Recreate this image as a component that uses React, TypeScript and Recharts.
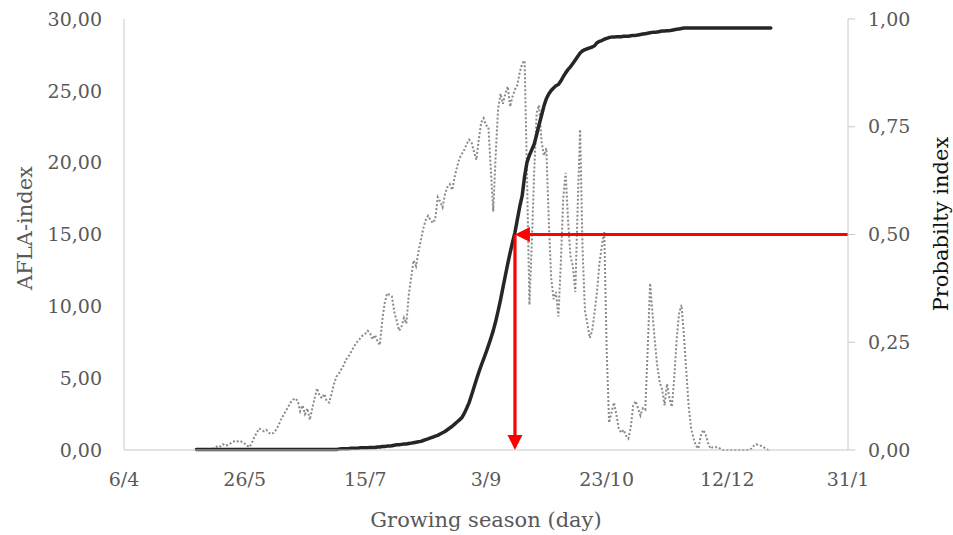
import React from "react";
import { ComposedChart, Line, XAxis, YAxis, ReferenceLine, Label } from "recharts";

// x axis: days since 6/4
const xTickDays = [0, 50, 100, 150, 200, 250, 300];
const xTickLabels = ["6/4", "26/5", "15/7", "3/9", "23/10", "12/12", "31/1"];
const leftTicks = [0, 5, 10, 15, 20, 25, 30];
const leftTickLabels = ["0,00", "5,00", "10,00", "15,00", "20,00", "25,00", "30,00"];
const rightTicks = [0, 0.25, 0.5, 0.75, 1];
const rightTickLabels = ["0,00", "0,25", "0,50", "0,75", "1,00"];

const firstDay = 30; // first data day (6/5)

// AFLA-index, daily, from day 30
const aflaValues = [
  0, 0, 0, 0, 0, 0, 0.05, 0.1, 0.2, 0.3,
  0.25, 0.4, 0.3, 0.35, 0.45, 0.55, 0.65, 0.6, 0.65, 0.55,
  0.45, 0.3, 0.2, 0.5, 0.9, 1.2, 1.5, 1.4, 1.3, 1.4,
  1.2, 1.1, 1.2, 1.4, 1.7, 2.1, 2.4, 2.7, 3.0, 3.3,
  3.5, 3.6, 3.4, 2.7, 3.1, 2.5, 2.9, 2.1, 2.9, 3.6,
  4.3, 3.8, 3.6, 3.9, 3.4, 3.3, 3.9, 4.6, 5.1, 5.3,
  5.6, 5.9, 6.3, 6.5, 6.8, 7.1, 7.4, 7.6, 7.8, 8.0,
  8.1, 8.3, 8.1, 7.7, 8.0, 7.6, 7.3, 9.0, 10.2, 10.9,
  10.8, 10.7, 9.6, 9.0, 8.3, 8.6, 9.2, 8.8, 10.8, 12.0,
  13.2, 12.8, 13.8, 14.6, 15.4, 16.0, 16.3, 16.0, 15.8, 16.1,
  17.6, 17.3, 16.9, 17.8, 18.3, 18.5, 18.1, 19.0, 19.7, 20.3,
  20.6, 20.9, 21.3, 21.6, 21.4, 20.8, 20.2, 21.6, 22.8, 23.1,
  22.6, 22.5, 19.5, 16.6, 20.5, 23.7, 24.8, 24.1, 24.8, 25.3,
  23.9, 24.6, 25.1, 25.4, 26.3, 26.9, 27.1, 19.0, 10.1, 14.5,
  19.5, 23.5, 24.0, 21.5, 20.5, 21.0, 16.0, 12.0, 10.5, 11.0,
  9.3, 13.0, 17.5, 19.3, 16.0, 13.5, 12.8, 11.0, 17.0, 22.3,
  14.0, 9.7, 8.8, 7.8, 8.3, 9.6, 11.0, 13.0, 14.2, 15.2,
  7.0, 1.9, 2.6, 3.3, 2.5, 1.5, 1.2, 1.4, 1.0, 0.8,
  1.6, 3.1, 3.4, 2.9, 2.4, 2.9, 2.8, 7.0, 11.6, 9.5,
  7.5, 5.8, 4.7, 4.2, 3.1, 4.6, 3.6, 3.0, 5.0, 7.7,
  9.5, 10.1, 8.0, 5.5, 3.0, 1.5, 0.8, 0.3, 0.1, 1.0,
  1.4, 1.1, 0.5, 0.1, 0.2, 0.2, 0.2, 0.1, 0, 0,
  0, 0, 0, 0, 0, 0, 0, 0, 0, 0,
  0.1, 0.3, 0.4, 0.3, 0.3, 0.2, 0.1, 0, 0,
];

// Probability index, daily, from day 30
const probValues = [
  0.001, 0.001, 0.001, 0.001, 0.001, 0.001, 0.001, 0.001, 0.001, 0.001,
  0.001, 0.001, 0.001, 0.001, 0.001, 0.001, 0.001, 0.001, 0.001, 0.001,
  0.001, 0.001, 0.001, 0.001, 0.001, 0.001, 0.001, 0.001, 0.001, 0.001,
  0.001, 0.001, 0.001, 0.001, 0.001, 0.001, 0.001, 0.001, 0.001, 0.001,
  0.001, 0.001, 0.001, 0.001, 0.001, 0.001, 0.001, 0.001, 0.001, 0.001,
  0.001, 0.001, 0.001, 0.001, 0.001, 0.001, 0.001, 0.001, 0.001, 0.002,
  0.003, 0.003, 0.003, 0.003, 0.004, 0.004, 0.004, 0.004, 0.005, 0.005,
  0.005, 0.005, 0.006, 0.006, 0.006, 0.007, 0.007, 0.008, 0.008, 0.009,
  0.009, 0.010, 0.011, 0.012, 0.012, 0.013, 0.014, 0.014, 0.015, 0.016,
  0.017, 0.018, 0.019, 0.020, 0.022, 0.024, 0.026, 0.028, 0.030, 0.032,
  0.034, 0.037, 0.040, 0.043, 0.047, 0.051, 0.055, 0.060, 0.065, 0.070,
  0.075, 0.085, 0.097, 0.110, 0.127, 0.145, 0.163, 0.180, 0.196, 0.211,
  0.226, 0.242, 0.259, 0.277, 0.298, 0.322, 0.348, 0.376, 0.404, 0.432,
  0.458, 0.482, 0.505, 0.535, 0.565, 0.590, 0.635, 0.668, 0.684, 0.697,
  0.710, 0.732, 0.755, 0.776, 0.798, 0.815, 0.826, 0.834, 0.840, 0.845,
  0.848, 0.856, 0.866, 0.875, 0.883, 0.889, 0.897, 0.905, 0.913, 0.921,
  0.926, 0.929, 0.931, 0.933, 0.935, 0.938, 0.945, 0.948, 0.950, 0.953,
  0.955, 0.957, 0.958, 0.958, 0.959, 0.959, 0.959, 0.960, 0.960, 0.960,
  0.961, 0.962, 0.962, 0.963, 0.964, 0.965, 0.966, 0.967, 0.968, 0.969,
  0.969, 0.970, 0.971, 0.972, 0.972, 0.973, 0.973, 0.974, 0.975, 0.976,
  0.977, 0.978, 0.979, 0.979, 0.979, 0.979, 0.979, 0.979, 0.979, 0.979,
  0.979, 0.979, 0.979, 0.979, 0.979, 0.979, 0.979, 0.979, 0.979, 0.979,
  0.979, 0.979, 0.979, 0.979, 0.979, 0.979, 0.979, 0.979, 0.979, 0.979,
  0.979, 0.979, 0.979, 0.979, 0.979, 0.979, 0.979, 0.979, 0.979,
];

// 50% probability marker
const medianDay = 162;
const medianProb = 0.5;
const lastDay = 300;

const data = aflaValues.map((v, i) => ({ day: firstDay + i, afla: v, prob: probValues[i] }));

const FONT = "'DejaVu Serif', 'Liberation Serif', serif";
const TICK_COLOR = "#595959";
const AXIS_COLOR = "#c8c8c8";

const arrowShape = (props: any) => {
  const { x1, y1, x2, y2 } = props;
  const dx = x2 - x1;
  const dy = y2 - y1;
  const len = Math.hypot(dx, dy) || 1;
  const ux = dx / len;
  const uy = dy / len;
  const head = 15;
  const half = 7.5;
  const bx = x2 - ux * head;
  const by = y2 - uy * head;
  const px = -uy;
  const py = ux;
  return (
    <g>
      <line x1={x1} y1={y1} x2={bx + ux * 2} y2={by + uy * 2} stroke="#ff0000" strokeWidth={3.2} />
      <polygon
        points={`${x2},${y2} ${bx + px * half},${by + py * half} ${bx - px * half},${by - py * half}`}
        fill="#ff0000"
      />
    </g>
  );
};

const leftTitle = () => (
  <text x={25} y={228} transform="rotate(-90, 25, 228)" textAnchor="middle" dominantBaseline="central"
    fill={TICK_COLOR} fontSize={21} fontFamily={FONT}>AFLA-index</text>
);
const rightTitle = () => (
  <text x={941} y={224} transform="rotate(-90, 941, 224)" textAnchor="middle" dominantBaseline="central"
    fill="#111111" fontSize={21} fontFamily={FONT}>Probabilty index</text>
);
const xTitle = () => (
  <text x={486} y={520} textAnchor="middle" dominantBaseline="central"
    fill={TICK_COLOR} fontSize={21} fontFamily={FONT}>Growing season (day)</text>
);

export default function App() {
  return (
    <div style={{ position: "absolute", left: 0, top: 0, width: 953, height: 535, background: "#fff" }}>
      <ComposedChart width={953} height={535} data={data} margin={{ top: 19, right: 0, bottom: 0, left: 0 }}>
        <XAxis
          dataKey="day"
          type="number"
          domain={[0, lastDay]}
          ticks={xTickDays}
          tickFormatter={(v: number) => xTickLabels[xTickDays.indexOf(v)] ?? ""}
          height={85}
          axisLine={{ stroke: AXIS_COLOR, strokeWidth: 1 }}
          tickLine={false}
          tickSize={6}
          tickMargin={17}
          tick={{ fill: TICK_COLOR, fontSize: 19, fontFamily: FONT }}
          interval={0}
        >
          <Label content={xTitle} />
        </XAxis>
        <YAxis
          yAxisId="left"
          domain={[0, 30]}
          ticks={leftTicks}
          tickFormatter={(v: number) => leftTickLabels[leftTicks.indexOf(v)] ?? ""}
          width={124}
          axisLine={{ stroke: AXIS_COLOR, strokeWidth: 1 }}
          tickLine={false}
          tickSize={6}
          tickMargin={16}
          tick={{ fill: TICK_COLOR, fontSize: 19, fontFamily: FONT }}
          interval={0}
        >
          <Label content={leftTitle} />
        </YAxis>
        <YAxis
          yAxisId="right"
          orientation="right"
          domain={[0, 1]}
          ticks={rightTicks}
          tickFormatter={(v: number) => rightTickLabels[rightTicks.indexOf(v)] ?? ""}
          width={105}
          axisLine={{ stroke: AXIS_COLOR, strokeWidth: 1 }}
          tickLine={{ stroke: AXIS_COLOR, strokeWidth: 1 }}
          tickSize={7}
          tickMargin={13}
          tick={{ fill: TICK_COLOR, fontSize: 19, fontFamily: FONT }}
          interval={0}
        >
          <Label content={rightTitle} />
        </YAxis>
        <Line
          yAxisId="left"
          dataKey="afla"
          type="linear"
          stroke="#8a8a8a"
          strokeWidth={2}
          strokeDasharray="2 2"
          dot={false}
          activeDot={false}
          isAnimationActive={false}
        />
        <Line
          yAxisId="right"
          dataKey="prob"
          type="linear"
          stroke="#262626"
          strokeWidth={3.5}
          strokeLinecap="round"
          strokeLinejoin="round"
          dot={false}
          activeDot={false}
          isAnimationActive={false}
        />
        <ReferenceLine
          yAxisId="right"
          segment={[{ x: lastDay, y: medianProb }, { x: medianDay, y: medianProb }]}
          shape={arrowShape}
          ifOverflow="visible"
        />
        <ReferenceLine
          yAxisId="right"
          segment={[{ x: medianDay, y: medianProb }, { x: medianDay, y: 0 }]}
          shape={arrowShape}
          ifOverflow="visible"
        />
      </ComposedChart>
    </div>
  );
}
